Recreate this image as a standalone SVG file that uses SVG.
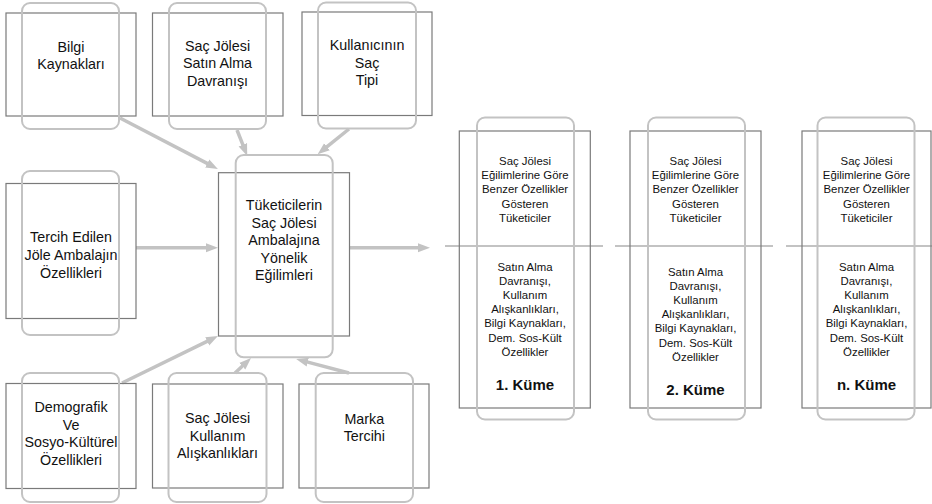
<svg xmlns="http://www.w3.org/2000/svg" width="932" height="504" viewBox="0 0 932 504">
<style>
.r{fill:none;stroke:#7a7a7a;stroke-width:1.2}
.rr{fill:none;stroke:#c3c3c3;stroke-width:2}
.t{font-family:"Liberation Sans",Arial,sans-serif;font-size:14.3px;fill:#111;text-anchor:middle}
.s{font-family:"Liberation Sans",Arial,sans-serif;font-size:11.4px;fill:#111;text-anchor:middle}
.k{font-family:"Liberation Sans",Arial,sans-serif;font-size:15px;font-weight:bold;fill:#111;text-anchor:middle}
.a{stroke:#c3c3c3;stroke-width:3.5;fill:none;marker-end:url(#ah)}
.h{stroke:#c3c3c3;stroke-width:2;fill:none}
</style>
<defs>
<marker id="ah" markerUnits="userSpaceOnUse" markerWidth="13" markerHeight="10" refX="1" refY="5" orient="auto">
<path d="M0,0.5 L12,5 L0,9.5 z" fill="#c3c3c3"/>
</marker>
</defs>
<rect width="932" height="504" fill="#fff"/>

<g id="connectors">
<line class="a" x1="120" y1="118" x2="208.1" y2="163.9"/>
<line class="a" x1="237" y1="130" x2="243.2" y2="145.7"/>
<line class="a" x1="349" y1="129" x2="326.2" y2="147.4"/>
<line class="a" x1="136" y1="247.7" x2="207" y2="247.7"/>
<line class="a" x1="349" y1="247.7" x2="419" y2="247.7"/>
<line class="a" x1="122" y1="383" x2="208.1" y2="340.9"/>
<line class="a" x1="235" y1="373" x2="243" y2="365.5"/>
<line class="a" x1="349" y1="373" x2="306.8" y2="361.9"/>
<line class="h" x1="445" y1="246" x2="603" y2="246"/>
<line class="h" x1="615" y1="246" x2="773" y2="246"/>
<line class="h" x1="786" y1="246" x2="932" y2="246"/>
</g>

<g id="bilgi">
<rect class="r" x="6" y="13" width="130" height="103"/>
<rect class="rr" x="22" y="3" width="97" height="126" rx="8"/>
<text class="t" x="71" y="51.5">Bilgi</text>
<text class="t" x="71" y="69">Kaynakları</text>
</g>

<g id="satinalma">
<rect class="r" x="152.5" y="13" width="130.5" height="103"/>
<rect class="rr" x="169" y="3" width="97" height="126" rx="8"/>
<text class="t" x="217.5" y="50.5">Saç Jölesi</text>
<text class="t" x="217.5" y="68.2">Satın Alma</text>
<text class="t" x="217.5" y="86">Davranışı</text>
</g>

<g id="sactipi">
<rect class="r" x="302" y="12" width="130" height="103.5"/>
<rect class="rr" x="318" y="2.5" width="98" height="126" rx="8"/>
<text class="t" x="367" y="50">Kullanıcının</text>
<text class="t" x="367" y="67.7">Saç</text>
<text class="t" x="367" y="85.4">Tipi</text>
</g>

<g id="tercih">
<rect class="r" x="6" y="183.5" width="130" height="135"/>
<rect class="rr" x="22" y="171" width="97" height="164" rx="8"/>
<text class="t" x="71" y="241.5">Tercih Edilen</text>
<text class="t" x="71" y="259.5">Jöle Ambalajın</text>
<text class="t" x="71" y="277.5">Özellikleri</text>
</g>

<g id="merkez">
<rect class="r" x="218.5" y="172.7" width="131" height="163.3"/>
<rect class="rr" x="235.7" y="155" width="97" height="202.3" rx="8"/>
<text class="t" x="284" y="210">Tüketicilerin</text>
<text class="t" x="284" y="227.6">Saç Jölesi</text>
<text class="t" x="284" y="245.2">Ambalajına</text>
<text class="t" x="284" y="262.8">Yönelik</text>
<text class="t" x="284" y="280.4">Eğilimleri</text>
</g>

<g id="demografik">
<rect class="r" x="6" y="383.5" width="130" height="105"/>
<rect class="rr" x="22" y="373" width="97" height="129" rx="8"/>
<text class="t" x="71" y="412">Demografik</text>
<text class="t" x="71" y="429.5">Ve</text>
<text class="t" x="71" y="447">Sosyo-Kültürel</text>
<text class="t" x="71" y="464.5">Özellikleri</text>
</g>

<g id="kullanim">
<rect class="r" x="152.5" y="384" width="130.5" height="104"/>
<rect class="rr" x="168.5" y="373" width="98" height="129" rx="8"/>
<text class="t" x="217.5" y="423">Saç Jölesi</text>
<text class="t" x="217.5" y="440.6">Kullanım</text>
<text class="t" x="217.5" y="458.2">Alışkanlıkları</text>
</g>

<g id="marka">
<rect class="r" x="299" y="384" width="130" height="104"/>
<rect class="rr" x="315.7" y="373" width="97.3" height="129" rx="8"/>
<text class="t" x="364.3" y="423.5">Marka</text>
<text class="t" x="364.3" y="441">Tercihi</text>
</g>

<g id="kume1">
<rect class="r" x="459.3" y="131" width="131" height="277"/>
<rect class="rr" x="477" y="117.5" width="97" height="302" rx="8"/>
<text class="s" x="525" y="165">Saç Jölesi</text>
<text class="s" x="525" y="179.2">Eğilimlerine Göre</text>
<text class="s" x="525" y="193.4">Benzer Özellikler</text>
<text class="s" x="525" y="207.6">Gösteren</text>
<text class="s" x="525" y="221.8">Tüketiciler</text>
<text class="s" x="525" y="271">Satın Alma</text>
<text class="s" x="525" y="285.1">Davranışı,</text>
<text class="s" x="525" y="299.2">Kullanım</text>
<text class="s" x="525" y="313.3">Alışkanlıkları,</text>
<text class="s" x="525" y="327.4">Bilgi Kaynakları,</text>
<text class="s" x="525" y="341.5">Dem. Sos-Kült</text>
<text class="s" x="525" y="355.6">Özellikler</text>
<text class="k" x="525" y="390">1. Küme</text>
</g>

<g id="kume2">
<rect class="r" x="630" y="131" width="131" height="277"/>
<rect class="rr" x="648" y="117.5" width="97" height="302" rx="8"/>
<text class="s" x="695.5" y="165">Saç Jölesi</text>
<text class="s" x="695.5" y="179.2">Eğilimlerine Göre</text>
<text class="s" x="695.5" y="193.4">Benzer Özellikler</text>
<text class="s" x="695.5" y="207.6">Gösteren</text>
<text class="s" x="695.5" y="221.8">Tüketiciler</text>
<text class="s" x="695.5" y="276">Satın Alma</text>
<text class="s" x="695.5" y="290.1">Davranışı,</text>
<text class="s" x="695.5" y="304.2">Kullanım</text>
<text class="s" x="695.5" y="318.3">Alışkanlıkları,</text>
<text class="s" x="695.5" y="332.4">Bilgi Kaynakları,</text>
<text class="s" x="695.5" y="346.5">Dem. Sos-Kült</text>
<text class="s" x="695.5" y="360.6">Özellikler</text>
<text class="k" x="695.5" y="394.5">2. Küme</text>
</g>

<g id="kumen">
<rect class="r" x="802" y="131" width="129" height="277"/>
<rect class="rr" x="817.5" y="117.5" width="97" height="302" rx="8"/>
<text class="s" x="866.5" y="165">Saç Jölesi</text>
<text class="s" x="866.5" y="179.2">Eğilimlerine Göre</text>
<text class="s" x="866.5" y="193.4">Benzer Özellikler</text>
<text class="s" x="866.5" y="207.6">Gösteren</text>
<text class="s" x="866.5" y="221.8">Tüketiciler</text>
<text class="s" x="866.5" y="271">Satın Alma</text>
<text class="s" x="866.5" y="285.1">Davranışı,</text>
<text class="s" x="866.5" y="299.2">Kullanım</text>
<text class="s" x="866.5" y="313.3">Alışkanlıkları,</text>
<text class="s" x="866.5" y="327.4">Bilgi Kaynakları,</text>
<text class="s" x="866.5" y="341.5">Dem. Sos-Kült</text>
<text class="s" x="866.5" y="355.6">Özellikler</text>
<text class="k" x="866.5" y="390">n. Küme</text>
</g>
</svg>
